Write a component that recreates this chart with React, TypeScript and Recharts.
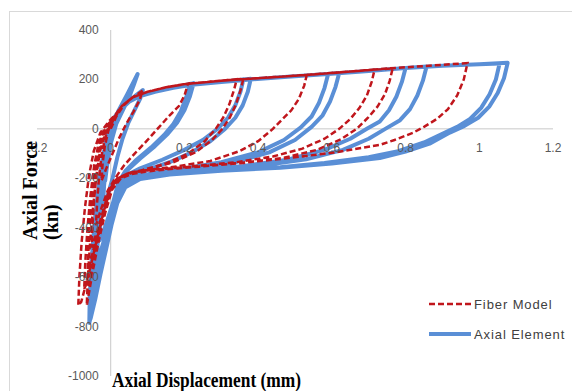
import { Legend, Line, LineChart, ReferenceLine, XAxis, YAxis } from 'recharts';

type Pt = [number, number];

const xTicks = [-0.2, 0, 0.2, 0.4, 0.6, 0.8, 1, 1.2];
const yTicks = [400, 200, 0, -200, -400, -600, -800, -1000];

// Axial Element (blue) — one array per cycle, [displacement mm, force kn]
const blueCycle1: Pt[] = [[0, 0], [0.02, 70], [0.045, 140], [0.073, 222], [0.062, 175], [0.05, 128], [0.035, 82], [0.015, 20], [0, -60], [-0.01, -150], [-0.015, -210]];
const blueCycle2: Pt[] = [[-0.012, -130], [-0.006, -50], [0.004, 15], [0.025, 75], [0.05, 112], [0.07, 138], [0.087, 157], [0.08, 122], [0.066, 80], [0.048, 25], [0.032, -40], [0.018, -115], [0.005, -200], [-0.008, -270], [-0.022, -330]];
const blueCycle3: Pt[] = [[-0.018, -230], [-0.012, -130], [-0.004, -40], [0.006, 25], [0.025, 75], [0.05, 110], [0.08, 133], [0.12, 150], [0.17, 166], [0.215, 182], [0.205, 128], [0.19, 70], [0.17, 20], [0.145, -25], [0.11, -75], [0.07, -125], [0.04, -170], [0.02, -220], [0.008, -290], [-0.005, -350], [-0.018, -410], [-0.03, -450]];
const blueCycle4: Pt[] = [[-0.027, -330], [-0.019, -200], [-0.01, -90], [-0.002, -15], [0.01, 40], [0.025, 78], [0.05, 110], [0.08, 133], [0.12, 150], [0.17, 166], [0.225, 185], [0.215, 132], [0.2, 75], [0.18, 25], [0.155, -20], [0.12, -70], [0.08, -120], [0.045, -168], [0.022, -215], [0.01, -280], [-0.003, -360], [-0.016, -440], [-0.03, -510], [-0.038, -540]];
const blueCycle5: Pt[] = [[-0.034, -420], [-0.027, -300], [-0.019, -180], [-0.01, -80], [-0.002, -10], [0.01, 40], [0.025, 78], [0.05, 110], [0.08, 133], [0.12, 150], [0.17, 166], [0.22, 178], [0.3, 190], [0.36, 200], [0.352, 150], [0.338, 95], [0.318, 45], [0.29, 0], [0.25, -45], [0.2, -85], [0.14, -125], [0.08, -160], [0.04, -190], [0.02, -230], [0.008, -290], [-0.004, -370], [-0.018, -460], [-0.032, -550], [-0.044, -610]];
const blueCycle6: Pt[] = [[-0.041, -500], [-0.035, -380], [-0.027, -260], [-0.018, -150], [-0.008, -60], [0.002, 5], [0.015, 52], [0.03, 85], [0.05, 110], [0.08, 133], [0.12, 150], [0.17, 166], [0.22, 178], [0.3, 190], [0.38, 203], [0.372, 150], [0.358, 95], [0.338, 45], [0.31, 0], [0.27, -50], [0.22, -95], [0.16, -135], [0.1, -165], [0.05, -192], [0.025, -228], [0.01, -290], [-0.003, -380], [-0.016, -470], [-0.03, -560], [-0.043, -640], [-0.048, -660]];
const blueCycle7: Pt[] = [[-0.046, -560], [-0.041, -440], [-0.034, -320], [-0.025, -200], [-0.015, -95], [-0.005, -20], [0.008, 40], [0.025, 78], [0.05, 110], [0.08, 133], [0.12, 150], [0.17, 166], [0.22, 178], [0.3, 190], [0.38, 200], [0.48, 211], [0.59, 222], [0.58, 165], [0.565, 105], [0.545, 50], [0.515, 5], [0.47, -45], [0.4, -95], [0.3, -135], [0.2, -160], [0.12, -178], [0.06, -195], [0.03, -228], [0.014, -290], [0.002, -370], [-0.012, -460], [-0.026, -560], [-0.04, -650], [-0.052, -710]];
const blueCycle8: Pt[] = [[-0.05, -600], [-0.045, -470], [-0.038, -340], [-0.028, -210], [-0.017, -100], [-0.006, -20], [0.008, 40], [0.025, 78], [0.05, 110], [0.08, 133], [0.12, 150], [0.17, 166], [0.22, 178], [0.3, 190], [0.38, 200], [0.48, 211], [0.59, 222], [0.62, 226], [0.61, 170], [0.595, 110], [0.575, 55], [0.545, 8], [0.5, -45], [0.43, -95], [0.33, -138], [0.22, -165], [0.13, -182], [0.07, -198], [0.035, -228], [0.016, -290], [0.003, -370], [-0.011, -460], [-0.025, -560], [-0.04, -660], [-0.054, -745]];
const blueCycle9: Pt[] = [[-0.053, -640], [-0.048, -500], [-0.04, -360], [-0.03, -225], [-0.019, -110], [-0.008, -25], [0.006, 38], [0.025, 78], [0.05, 110], [0.08, 133], [0.12, 150], [0.17, 166], [0.22, 178], [0.3, 190], [0.38, 200], [0.48, 211], [0.59, 222], [0.7, 234], [0.8, 246], [0.79, 190], [0.775, 130], [0.755, 75], [0.73, 30], [0.695, 0], [0.65, -40], [0.58, -85], [0.48, -125], [0.36, -150], [0.24, -168], [0.14, -182], [0.07, -198], [0.035, -228], [0.016, -290], [0.002, -380], [-0.012, -470], [-0.027, -570], [-0.042, -680], [-0.056, -770]];
const blueCycle10: Pt[] = [[-0.055, -660], [-0.05, -520], [-0.043, -380], [-0.033, -240], [-0.021, -120], [-0.009, -30], [0.005, 35], [0.025, 78], [0.05, 110], [0.08, 133], [0.12, 150], [0.17, 166], [0.22, 178], [0.3, 190], [0.38, 200], [0.48, 211], [0.59, 222], [0.7, 234], [0.8, 246], [0.857, 252], [0.847, 195], [0.832, 135], [0.812, 80], [0.785, 35], [0.745, 0], [0.7, -40], [0.63, -85], [0.53, -123], [0.4, -150], [0.27, -168], [0.15, -183], [0.075, -200], [0.035, -232], [0.016, -295], [0.001, -385], [-0.014, -480], [-0.029, -580], [-0.044, -690], [-0.058, -782]];
const blueCycle11: Pt[] = [[-0.057, -680], [-0.052, -540], [-0.045, -400], [-0.035, -260], [-0.023, -130], [-0.011, -35], [0.004, 32], [0.025, 78], [0.05, 110], [0.08, 133], [0.12, 150], [0.17, 166], [0.22, 178], [0.3, 190], [0.38, 200], [0.48, 211], [0.59, 222], [0.7, 234], [0.8, 246], [0.9, 255], [1.0, 261], [1.055, 264], [1.045, 200], [1.028, 140], [1.005, 85], [0.975, 40], [0.94, 8], [0.9, -20], [0.85, -55], [0.78, -90], [0.7, -115], [0.58, -138], [0.46, -155], [0.3, -168], [0.16, -182], [0.08, -200], [0.04, -232], [0.018, -295], [0.002, -385], [-0.013, -480], [-0.028, -580], [-0.043, -690], [-0.058, -785]];
const blueCycle12: Pt[] = [[-0.057, -680], [-0.052, -540], [-0.045, -400], [-0.035, -260], [-0.023, -130], [-0.011, -35], [0.004, 32], [0.025, 78], [0.05, 110], [0.08, 133], [0.12, 150], [0.17, 166], [0.22, 178], [0.3, 190], [0.38, 200], [0.48, 211], [0.59, 222], [0.7, 234], [0.8, 246], [0.9, 255], [1.0, 261], [1.077, 267], [1.067, 205], [1.05, 145], [1.027, 90], [0.997, 45], [0.96, 12], [0.92, -15], [0.865, -60], [0.8, -92], [0.73, -118], [0.6, -140], [0.46, -157], [0.3, -170], [0.16, -185], [0.08, -203], [0.04, -236], [0.018, -300], [0.002, -390], [-0.013, -490], [-0.028, -590], [-0.042, -690], [-0.055, -770]];

// Fiber Model (red dashed)
const redCycle1: Pt[] = [[0, 0], [0.015, 50], [0.035, 95], [0.06, 128], [0.087, 155], [0.078, 115], [0.062, 70], [0.042, 20], [0.022, -40], [0.005, -100], [-0.012, -160], [-0.025, -210]];
const redCycle2: Pt[] = [[-0.022, -140], [-0.016, -70], [-0.006, -5], [0.01, 45], [0.03, 92], [0.06, 128], [0.1, 150], [0.15, 168], [0.21, 183], [0.2, 135], [0.185, 92], [0.16, 55], [0.13, 5], [0.1, -45], [0.065, -100], [0.035, -150], [0.012, -200], [-0.008, -250], [-0.025, -320], [-0.04, -390]];
const redCycle3: Pt[] = [[-0.037, -300], [-0.032, -200], [-0.025, -110], [-0.015, -35], [0, 20], [0.012, 50], [0.03, 92], [0.06, 128], [0.1, 150], [0.15, 168], [0.2, 181], [0.3, 195], [0.342, 201], [0.335, 160], [0.322, 100], [0.305, 45], [0.285, 0], [0.255, -50], [0.21, -100], [0.15, -140], [0.09, -165], [0.045, -183], [0.015, -205], [-0.005, -250], [-0.02, -330], [-0.038, -420], [-0.052, -480]];
const redCycle4: Pt[] = [[-0.049, -380], [-0.044, -270], [-0.037, -160], [-0.028, -70], [-0.015, -5], [0, 30], [0.012, 52], [0.03, 92], [0.06, 128], [0.1, 150], [0.15, 168], [0.2, 181], [0.3, 195], [0.36, 203], [0.353, 160], [0.34, 100], [0.323, 45], [0.303, 0], [0.275, -45], [0.23, -95], [0.17, -135], [0.1, -162], [0.05, -178], [0.018, -200], [-0.003, -245], [-0.02, -330], [-0.037, -430], [-0.052, -520], [-0.062, -570]];
const redCycle5: Pt[] = [[-0.06, -470], [-0.055, -350], [-0.048, -230], [-0.039, -120], [-0.027, -40], [-0.01, 15], [0.01, 45], [0.03, 92], [0.06, 128], [0.1, 150], [0.15, 168], [0.2, 181], [0.3, 195], [0.4, 205], [0.532, 218], [0.525, 175], [0.51, 120], [0.49, 75], [0.465, 38], [0.44, 0], [0.4, -50], [0.35, -90], [0.27, -130], [0.18, -152], [0.1, -166], [0.05, -178], [0.02, -200], [-0.002, -245], [-0.02, -340], [-0.038, -450], [-0.055, -560], [-0.072, -650]];
const redCycle6: Pt[] = [[-0.069, -540], [-0.063, -400], [-0.055, -270], [-0.045, -150], [-0.033, -60], [-0.016, 5], [0.005, 38], [0.03, 92], [0.06, 128], [0.1, 150], [0.15, 168], [0.2, 181], [0.3, 195], [0.4, 205], [0.53, 218], [0.65, 232], [0.716, 240], [0.708, 190], [0.695, 135], [0.675, 85], [0.65, 40], [0.62, 0], [0.58, -40], [0.52, -80], [0.44, -112], [0.34, -135], [0.22, -152], [0.12, -165], [0.06, -176], [0.025, -198], [0, -245], [-0.02, -350], [-0.04, -470], [-0.06, -590], [-0.08, -700], [-0.088, -715]];
const redCycle7: Pt[] = [[-0.085, -600], [-0.079, -460], [-0.07, -320], [-0.059, -190], [-0.046, -90], [-0.028, -15], [-0.005, 30], [0.015, 62], [0.03, 92], [0.06, 128], [0.1, 150], [0.15, 168], [0.2, 181], [0.3, 195], [0.4, 205], [0.53, 218], [0.65, 232], [0.765, 245], [0.757, 195], [0.744, 140], [0.724, 90], [0.698, 45], [0.667, 0], [0.625, -42], [0.56, -85], [0.47, -117], [0.36, -138], [0.24, -153], [0.13, -166], [0.065, -178], [0.028, -200], [0.004, -245], [-0.015, -340], [-0.032, -450], [-0.048, -570], [-0.065, -715]];
const redCycle8: Pt[] = [[-0.062, -600], [-0.056, -460], [-0.048, -320], [-0.039, -190], [-0.029, -90], [-0.015, -20], [0.003, 30], [0.015, 55], [0.03, 92], [0.06, 128], [0.1, 150], [0.15, 168], [0.2, 181], [0.3, 195], [0.4, 205], [0.53, 218], [0.65, 232], [0.75, 244], [0.85, 254], [0.968, 266], [0.958, 200], [0.94, 135], [0.915, 80], [0.885, 40], [0.85, 8], [0.82, -16], [0.77, -45], [0.73, -65], [0.6, -97], [0.46, -122], [0.3, -145], [0.18, -160], [0.1, -172], [0.05, -185], [0.02, -208], [0, -250], [-0.018, -340], [-0.035, -450], [-0.05, -560], [-0.062, -650]];

const blueCycles = [blueCycle1, blueCycle2, blueCycle3, blueCycle4, blueCycle5, blueCycle6, blueCycle7, blueCycle8, blueCycle9, blueCycle10, blueCycle11, blueCycle12];
const redCycles = [redCycle1, redCycle2, redCycle3, redCycle4, redCycle5, redCycle6, redCycle7, redCycle8];

const toRows = (cycles: Pt[][]) => cycles.flat().map(([x, y]) => ({ x, y }));
const blueData = toRows(blueCycles);
const redData = toRows(redCycles);

const W = 572;
const H = 391;
const X_AXIS_H = 15;
const Y_AXIS_W = 37;
const margin = { top: 30, right: 19, bottom: 0, left: 0 };
const plotW = W - Y_AXIS_W - margin.right;
const plotH = H - margin.top - X_AXIS_H;
// where the axes cross (x = 0, y = 0)
const zeroX = Y_AXIS_W + (plotW * 0.2) / 1.4;
const zeroY = margin.top + (plotH * 400) / 1400;

const RED = '#C0161C';
const BLUE = '#5A8FD6';
const TICK_FONT = 'Liberation Sans, Arial, sans-serif';
const TITLE_FONT = 'Liberation Serif, Times New Roman, serif';

const renderXTick = (p: any) => (
  <text key={p.index} x={p.x} y={zeroY + 23} textAnchor="middle" fill="#595959" fontSize={12} fontFamily={TICK_FONT}>
    {p.payload.value}
  </text>
);

const renderYTick = (p: any) => (
  <text key={p.index} x={zeroX - 12} y={p.y} dy={4} textAnchor="end" fill="#595959" fontSize={12} fontFamily={TICK_FONT}>
    {p.payload.value}
  </text>
);

const legendDash: Record<string, string | undefined> = { 'Fiber Model': '6 3', 'Axial Element': undefined };

const LegendBox = ({ payload }: any) => (
  <div style={{ fontFamily: TICK_FONT, fontSize: 13, letterSpacing: 0.9, color: '#404040' }}>
    {(payload ?? []).map((e: any, i: number) => (
      <div key={e.value} style={{ display: 'flex', alignItems: 'center', height: 20, marginTop: i ? 10 : 0 }}>
        <svg width={46} height={20}>
          <line
            x1={1}
            x2={43}
            y1={10}
            y2={10}
            stroke={e.color}
            strokeWidth={e.value === 'Fiber Model' ? 2.5 : 4}
            strokeDasharray={legendDash[e.value]}
          />
        </svg>
        <span>{e.value}</span>
      </div>
    ))}
  </div>
);

export default function App() {
  return (
    <div style={{ position: 'fixed', left: 0, top: 0, width: W, height: H, overflow: 'hidden', background: '#fff' }}>
      <div
        style={{ position: 'absolute', left: 9, top: 11, width: 600, height: 420, border: '1px solid #d9d9d9' }}
      />
      <div style={{ position: 'absolute', left: 0, top: 0 }}>
        <LineChart width={W} height={H} margin={margin}>
          <XAxis
            dataKey="x"
            type="number"
            domain={[-0.2, 1.2]}
            ticks={xTicks}
            interval={0}
            axisLine={false}
            tickLine={false}
            height={X_AXIS_H}
            tick={renderXTick}
            allowDataOverflow
          />
          <YAxis
            type="number"
            domain={[-1000, 400]}
            ticks={yTicks}
            interval={0}
            axisLine={false}
            tickLine={false}
            width={Y_AXIS_W}
            tick={renderYTick}
            allowDataOverflow
          />
          <ReferenceLine x={0} stroke="#c8c8c8" strokeWidth={1} />
          <ReferenceLine y={0} stroke="#c8c8c8" strokeWidth={1} />
          <Line
            data={blueData}
            dataKey="y"
            name="Axial Element"
            type="linear"
            stroke={BLUE}
            strokeWidth={4}
            strokeLinejoin="round"
            dot={false}
            activeDot={false}
            isAnimationActive={false}
            legendType="plainline"
          />
          <Line
            data={redData}
            dataKey="y"
            name="Fiber Model"
            type="linear"
            stroke={RED}
            strokeWidth={2.5}
            strokeDasharray="6 3"
            dot={false}
            activeDot={false}
            isAnimationActive={false}
            legendType="plainline"
          />
          <Legend
            layout="vertical"
            align="center"
            verticalAlign="middle"
            itemSorter={(e: any) => (e.value === 'Fiber Model' ? 0 : 1)}
            content={<LegendBox />}
            wrapperStyle={{ left: 428, top: 294, width: 150 }}
          />
        </LineChart>
      </div>
      <svg width={W} height={H} style={{ position: 'absolute', left: 0, top: 0, pointerEvents: 'none' }}>
        <text
          x={112}
          y={387}
          fontFamily={TITLE_FONT}
          fontWeight="bold"
          fontSize={20}
          textLength={189}
          lengthAdjust="spacingAndGlyphs"
        >
          Axial Displacement (mm)
        </text>
        <text transform="translate(37,240) rotate(-90)" fontFamily={TITLE_FONT} fontWeight="bold" fontSize={20}>
          Axial Force
        </text>
        <text transform="translate(58,240) rotate(-90)" fontFamily={TITLE_FONT} fontWeight="bold" fontSize={20}>
          (kn)
        </text>
      </svg>
    </div>
  );
}
